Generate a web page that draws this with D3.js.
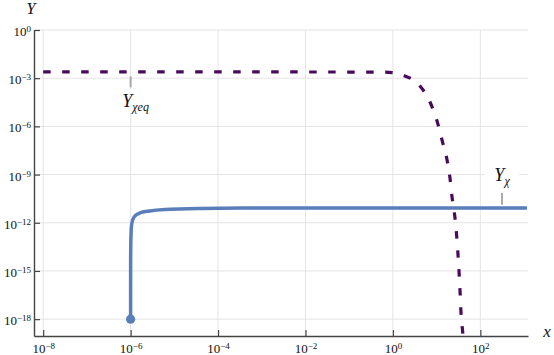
<!DOCTYPE html>
<html>
<head>
<meta charset="utf-8">
<script src="https://cdn.jsdelivr.net/npm/d3@7"></script>
<style>
  body { margin: 0; background: #fff; }
  svg { display: block; }
  svg text { font-family: 'Liberation Serif', 'Times New Roman', serif; fill: #111; }
</style>
</head>
<body>
<script>
// equilibrium abundance (dashed purple)
var eqX = [1e-8, 1e-4, 0.59, 1.0, 1.6, 3.95, 7.05, 10.2, 13.3, 17.3, 20.2, 22.5, 26.3, 29.2, 31.6, 34.2, 36.1, 40.1, 42];
var eqY = [2.45e-3, 2.45e-3, 2.4e-3, 2.2e-3, 1.6e-3, 3.8e-4, 3.3e-5, 2.2e-6, 1.4e-7, 8.1e-9, 6.2e-10, 4e-11, 2e-12, 8.5e-14, 3.6e-15, 6.5e-17, 2.4e-18, 9e-20, 1e-20];

// actual abundance (solid blue)
var chiX = [1e-6, 1.0001e-6, 1.001e-6, 1.02e-6, 1.06e-6, 1.2e-6, 1.6e-6, 2.7e-6, 6e-6, 4e-5, 1e-3, 1.17e3];
var chiY = [1e-18, 1.6e-17, 5e-15, 1.7e-13, 8.4e-13, 2.3e-12, 4e-12, 5.4e-12, 6.7e-12, 7.7e-12, 8.2e-12, 8.2e-12];

var xTicks = [-8, -6, -4, -2, 0, 2];
var yTicks = [0, -3, -6, -9, -12, -15, -18];

// annotation anchors in data units
var eqLabelAt = [1e-6, 2e-3];
var chiLabelAt = [313, 1.3e-11];

var width = 554, height = 355;
var mLeft = 34, mRight = 528, mTop = 30, mBottom = 336;

var x = d3.scaleLog().domain([Math.pow(10, -8.21), Math.pow(10, 3.09)]).range([mLeft, mRight]);
var y = d3.scaleLog().domain([Math.pow(10, -19.05), 1]).range([mBottom, mTop]);

var svg = d3.select("body").append("svg")
    .attr("width", width)
    .attr("height", height);

svg.append("defs").append("clipPath").attr("id", "clip")
    .append("rect")
    .attr("x", mLeft).attr("y", mTop)
    .attr("width", mRight - mLeft).attr("height", mBottom - mTop);

// grid
var grid = svg.append("g");
grid.selectAll(".gx").data(xTicks).enter().append("line")
    .attr("x1", function(d){ return x(Math.pow(10, d)); })
    .attr("x2", function(d){ return x(Math.pow(10, d)); })
    .attr("y1", mTop).attr("y2", mBottom)
    .attr("stroke", "#e4e4e4").attr("stroke-width", 1);
grid.selectAll(".gy").data(yTicks).enter().append("line")
    .attr("y1", function(d){ return y(Math.pow(10, d)); })
    .attr("y2", function(d){ return y(Math.pow(10, d)); })
    .attr("x1", mLeft).attr("x2", mRight)
    .attr("stroke", "#e4e4e4").attr("stroke-width", 1);

// white boxes behind the annotation labels
var eqAx = x(eqLabelAt[0]), eqAy = y(eqLabelAt[1]);
var chAx = x(chiLabelAt[0]), chAy = y(chiLabelAt[1]);
svg.append("rect")
    .attr("x", eqAx - 22).attr("y", eqAy + 16)
    .attr("width", 54).attr("height", 24)
    .attr("fill", "#fff");
svg.append("rect")
    .attr("x", chAx - 17).attr("y", chAy - 38)
    .attr("width", 34).attr("height", 24)
    .attr("fill", "#fff");

// curves
var plot = svg.append("g").attr("clip-path", "url(#clip)");

var line = d3.line()
    .x(function(d){ return x(d[0]); })
    .y(function(d){ return y(d[1]); })
    .curve(d3.curveMonotoneX);

plot.append("path")
    .datum(d3.zip(chiX, chiY))
    .attr("d", line)
    .attr("fill", "none")
    .attr("stroke", "#5a7eba")
    .attr("stroke-width", 3.5);

plot.append("path")
    .datum(d3.zip(eqX, eqY))
    .attr("d", line)
    .attr("fill", "none")
    .attr("stroke", "#4a0a5c")
    .attr("stroke-width", 3.2)
    .attr("stroke-dasharray", "7.5,11.5");

svg.append("circle")
    .attr("cx", x(chiX[0]))
    .attr("cy", y(chiY[0]))
    .attr("r", 4.6)
    .attr("fill", "#5a7eba");

// axes
var xAxis = d3.axisBottom(x)
    .tickValues(xTicks.map(function(d){ return Math.pow(10, d); }))
    .tickSizeInner(-6).tickSizeOuter(0).tickFormat("");
var yAxis = d3.axisLeft(y)
    .tickValues(yTicks.map(function(d){ return Math.pow(10, d); }))
    .tickSizeInner(-6).tickSizeOuter(0).tickFormat("");

var gx = svg.append("g").attr("transform", "translate(0," + mBottom + ")").call(xAxis);
var gy = svg.append("g").attr("transform", "translate(" + mLeft + ",0)").call(yAxis);
[gx, gy].forEach(function(g){
    g.select(".domain").attr("stroke", "#444").attr("stroke-width", 1.4);
    g.selectAll(".tick line").attr("stroke", "#444").attr("stroke-width", 1.2);
});

function power(sel, e) {
    sel.append("tspan").attr("font-size", 13).text("10");
    sel.append("tspan").attr("font-size", 9).attr("dy", -4)
        .text(String(e).replace("-", "\u2212"));
}

svg.selectAll(".xl").data(xTicks).enter().append("text")
    .attr("x", function(d){ return x(Math.pow(10, d)) + 0.5; })
    .attr("y", 353)
    .attr("text-anchor", "middle")
    .each(function(d){ power(d3.select(this), d); });

svg.selectAll(".yl").data(yTicks).enter().append("text")
    .attr("x", 31)
    .attr("y", function(d){ return y(Math.pow(10, d)) + 6; })
    .attr("text-anchor", "end")
    .each(function(d){ power(d3.select(this), d); });

svg.append("text").attr("x", 31).attr("y", 14)
    .attr("text-anchor", "middle")
    .attr("font-style", "italic").attr("font-size", 16).text("Y");
svg.append("text").attr("x", 547).attr("y", 337)
    .attr("text-anchor", "middle")
    .attr("font-style", "italic").attr("font-size", 17).text("x");

// annotation ticks and labels
svg.append("line")
    .attr("x1", eqAx).attr("x2", eqAx)
    .attr("y1", eqAy + 3).attr("y2", eqAy + 14)
    .attr("stroke", "#aaa").attr("stroke-width", 2);
var t1 = svg.append("text")
    .attr("x", eqAx + 5).attr("y", eqAy + 34)
    .attr("text-anchor", "middle")
    .attr("font-style", "italic");
t1.append("tspan").attr("font-size", 18).text("Y");
t1.append("tspan").attr("font-size", 12).attr("dy", 4).text("\u03c7eq");

svg.append("line")
    .attr("x1", chAx).attr("x2", chAx)
    .attr("y1", chAy - 12).attr("y2", chAy)
    .attr("stroke", "#aaa").attr("stroke-width", 2);
var t2 = svg.append("text")
    .attr("x", chAx).attr("y", chAy - 24)
    .attr("text-anchor", "middle")
    .attr("font-style", "italic");
t2.append("tspan").attr("font-size", 18).text("Y");
t2.append("tspan").attr("font-size", 12).attr("dy", 4).text("\u03c7");
</script>
</body>
</html>
